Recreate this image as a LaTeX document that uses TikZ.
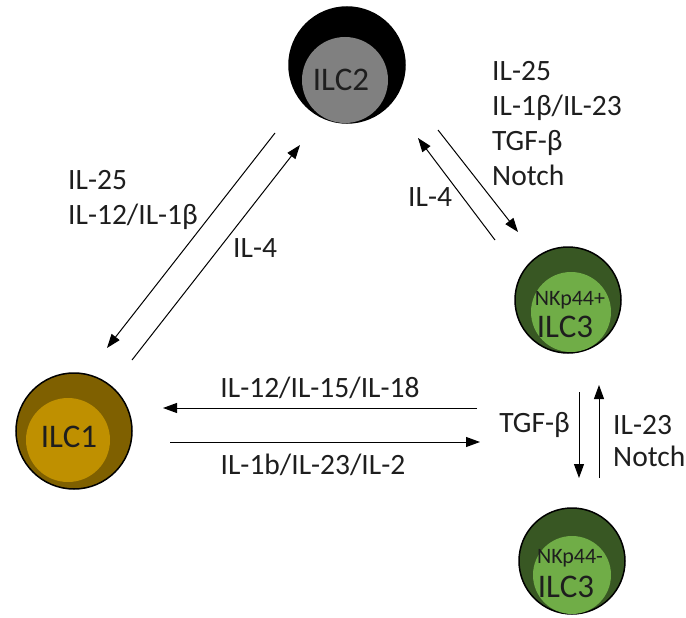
\documentclass[tikz,border=0pt]{standalone}
\usepackage{fontspec}
\setmainfont{Carlito}
\usetikzlibrary{calc, arrows.meta}

\definecolor{gryin}{RGB}{128,128,128}
\definecolor{goldout}{RGB}{127,96,0}
\definecolor{goldin}{RGB}{191,144,0}
\definecolor{grnout}{RGB}{56,87,35}
\definecolor{grnin}{RGB}{112,173,71}
\definecolor{ink}{RGB}{30,30,30}

\tikzset{
  lab/.style={font=\fontsize{29.5}{35}\selectfont, inner sep=0pt, align=left, text=ink},
  cell/.style={font=\fontsize{33}{36}\selectfont, inner sep=0pt, text=ink},
  tag/.style={font=\fontsize{22}{24}\selectfont, inner sep=0pt, text=ink},
  sig/.style={-{Triangle[length=14pt,width=10pt]}, line width=1pt},
}

\begin{document}
\begin{tikzpicture}[x=1pt, y=-1pt]
  \useasboundingbox[fill=white] (0, 0) rectangle (686, 618);
  \coordinate (O2) at (347, 65);
  \coordinate (O1) at (74, 431);
  \coordinate (Op) at (568, 300);
  \coordinate (Om) at (572, 561);
  \draw[line width=1.5pt, fill=black] (O2) circle (58pt);
  \fill[gryin] ($(O2) + (-2, 15)$) circle (43pt);
  \node[cell] (ilc2) at ($(O2) + (-6, 15)$) {ILC2};
  \draw[line width=1.5pt, fill=goldout] (O1) circle (58pt);
  \fill[goldin] ($(O1) + (-6, 9)$) circle (42pt);
  \node[cell] (ilc1) at ($(O1) + (-5, 6)$) {ILC1};
  \draw[line width=1.5pt, fill=grnout] (Op) circle (53pt);
  \fill[grnin] ($(Op) + (3, 12)$) circle (40pt);
  \node[tag] (nkp) at ($(Op) + (2, 0)$) {NKp44+};
  \node[cell] (ilc3p) at ($(Op) + (-3, 27)$) {ILC3};
  \draw[line width=1.5pt, fill=grnout] (Om) circle (53pt);
  \fill[grnin] ($(Om) + (0, 14)$) circle (39pt);
  \node[tag] (nkm) at ($(Om) + (-2, -3)$) {NKp44-};
  \node[cell] (ilc3m) at ($(Om) + (-6, 26)$) {ILC3};
  \coordinate (a1) at (275, 133);
  \coordinate (b1) at (107, 348);
  \coordinate (a2) at (132, 360);
  \coordinate (b2) at (300, 145);
  \coordinate (a3) at (495, 240);
  \coordinate (b3) at (418, 138);
  \coordinate (a4) at (438, 130);
  \coordinate (b4) at (518, 232);
  \coordinate (a5) at (477, 408);
  \coordinate (b5) at (163, 408);
  \coordinate (a6) at (170, 442);
  \coordinate (b6) at (480, 442);
  \coordinate (a7) at (579, 392);
  \coordinate (b7) at (579, 478);
  \coordinate (a8) at (599, 478);
  \coordinate (b8) at (599, 385);
  \draw[sig] (a1) -- (b1);
  \draw[sig] (a2) -- (b2);
  \draw[sig] (a3) -- (b3);
  \draw[sig] (a4) -- (b4);
  \draw[sig] (a5) -- (b5);
  \draw[sig] (a6) -- (b6);
  \draw[sig] (a7) -- (b7);
  \draw[sig] (a8) -- (b8);
  \node[lab, anchor=west] (in21) at (68, 200) {IL-25\\IL-12/IL-1β};
  \node[lab, anchor=west] (out21) at (233, 248) {IL-4};
  \node[lab, anchor=west] (in23) at (492, 124) {IL-25\\IL-1β/IL-23\\TGF-β\\Notch};
  \node[lab, anchor=west] (out23) at (408, 197) {IL-4};
  \node[lab] (in31) at (320, 388) {IL-12/IL-15/IL-18};
  \node[lab] (in13) at (313, 465) {IL-1b/IL-23/IL-2};
  \node[lab, anchor=east] (down3) at (570, 425) {TGF-β};
  \node[lab, anchor=west, font=\fontsize{29.5}{32}\selectfont] (up3) at (613, 441) {IL-23\\Notch};
\end{tikzpicture}
\end{document}
